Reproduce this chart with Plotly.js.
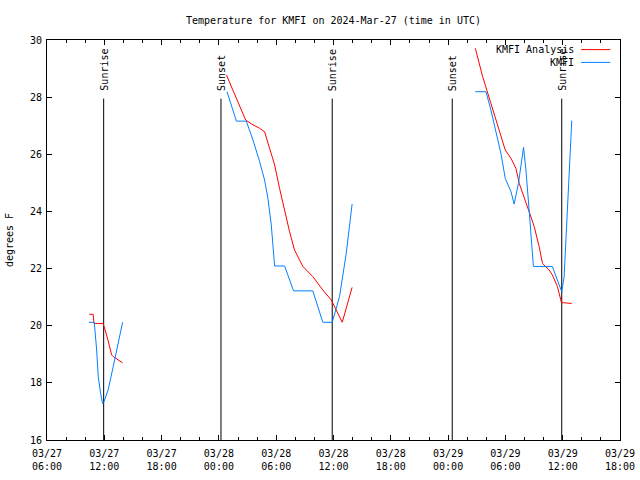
<!DOCTYPE html>
<html>
<head>
<meta charset="utf-8">
<script src="https://cdn.plot.ly/plotly-3.0.1.min.js"></script>
<style>html,body{margin:0;padding:0;background:#fff;}#chart{width:640px;height:480px;}</style>
</head>
<body>
<div id="chart"></div>
<script>
// ---- Data ----
const analysisTimes = [
  '2024-03-27 10:25','2024-03-27 10:50','2024-03-27 10:55','2024-03-27 11:53','2024-03-27 12:23','2024-03-27 12:46','2024-03-27 12:56','2024-03-27 13:21','2024-03-27 13:55',
  null,
  '2024-03-28 00:47','2024-03-28 02:48','2024-03-28 03:34','2024-03-28 04:16','2024-03-28 04:47','2024-03-28 05:19','2024-03-28 05:50','2024-03-28 06:21','2024-03-28 06:53','2024-03-28 07:24','2024-03-28 07:55','2024-03-28 08:48','2024-03-28 09:50','2024-03-28 10:53','2024-03-28 11:46','2024-03-28 12:17','2024-03-28 12:55','2024-03-28 13:57',
  null,
  '2024-03-29 02:51','2024-03-29 03:37','2024-03-29 04:29','2024-03-29 05:21','2024-03-29 05:59','2024-03-29 06:35','2024-03-29 07:06','2024-03-29 07:27','2024-03-29 07:58','2024-03-29 08:29','2024-03-29 09:01','2024-03-29 09:32','2024-03-29 09:53','2024-03-29 10:35','2024-03-29 10:55','2024-03-29 11:27','2024-03-29 11:52','2024-03-29 12:57'
];
const analysisTemps = [
  20.40,20.40,20.08,20.08,19.50,18.98,18.92,18.82,18.70,
  null,
  28.78,27.20,27.03,26.91,26.79,26.21,25.63,24.81,23.99,23.29,22.65,22.07,21.72,21.25,20.90,20.55,20.12,21.34,
  null,
  29.71,28.72,27.78,26.85,26.15,25.86,25.51,24.98,24.52,23.99,23.47,22.77,22.18,21.95,21.78,21.37,20.81,20.78
];
const obsTimes = [
  '2024-03-27 10:23','2024-03-27 10:57','2024-03-27 11:12','2024-03-27 11:22','2024-03-27 11:37','2024-03-27 11:49','2024-03-27 11:58','2024-03-27 12:24','2024-03-27 12:56','2024-03-27 13:27','2024-03-27 13:55',
  null,
  '2024-03-28 00:51','2024-03-28 01:50','2024-03-28 02:52','2024-03-28 03:34','2024-03-28 04:16','2024-03-28 04:47','2024-03-28 05:08','2024-03-28 05:29','2024-03-28 05:50','2024-03-28 06:53','2024-03-28 07:49','2024-03-28 09:50','2024-03-28 10:53','2024-03-28 11:52','2024-03-28 12:38','2024-03-28 13:20','2024-03-28 13:57',
  null,
  '2024-03-29 02:51','2024-03-29 03:58','2024-03-29 04:29','2024-03-29 05:00','2024-03-29 05:32','2024-03-29 05:59','2024-03-29 06:35','2024-03-29 06:55','2024-03-29 07:22','2024-03-29 07:54','2024-03-29 08:09','2024-03-29 08:29','2024-03-29 08:44','2024-03-29 08:56','2024-03-29 10:55','2024-03-29 11:17','2024-03-29 11:42','2024-03-29 11:54','2024-03-29 12:09','2024-03-29 12:30','2024-03-29 12:46','2024-03-29 12:57'
];
const obsTemps = [
  20.12,20.12,19.15,18.22,17.63,17.28,17.34,17.75,18.57,19.38,20.12,
  null,
  28.19,27.16,27.16,26.50,25.74,25.10,24.46,23.53,22.09,22.09,21.22,21.22,20.12,20.12,21.02,22.53,24.26,
  null,
  28.19,28.19,27.55,26.79,26.03,25.16,24.69,24.26,24.98,26.24,25.45,24.05,23.00,22.07,22.07,21.72,21.37,21.19,21.72,23.93,25.68,27.18
];
const eventTimes = ['2024-03-27 11:56','2024-03-28 00:13','2024-03-28 11:52','2024-03-29 00:26','2024-03-29 11:54'];
const eventLabels = ['Sunrise','Sunset','Sunrise','Sunset','Sunrise'];
const eventLineBottom = 16;
const eventLineTop = 27.95;
const eventLabelBase = 28.18;

const xTickVals = ['2024-03-27 06:00','2024-03-27 12:00','2024-03-27 18:00','2024-03-28 00:00','2024-03-28 06:00','2024-03-28 12:00','2024-03-28 18:00','2024-03-29 00:00','2024-03-29 06:00','2024-03-29 12:00','2024-03-29 18:00'];
const xTickText = ['03/27<br>06:00','03/27<br>12:00','03/27<br>18:00','03/28<br>00:00','03/28<br>06:00','03/28<br>12:00','03/28<br>18:00','03/29<br>00:00','03/29<br>06:00','03/29<br>12:00','03/29<br>18:00'];
const yTickVals = [16,18,20,22,24,26,28,30];
const seriesNames = ['KMFI Analysis','KMFI'];
const seriesColors = ['#ff0000','#0080ff'];

// ---- Build ----
const FONT = 'DejaVu Sans Mono, monospace';
const evX = [], evY = [];
eventTimes.forEach(t => { evX.push(t, t, null); evY.push(eventLineBottom, eventLineTop, null); });

const traces = [
  {x: evX, y: evY, mode: 'lines', line: {color: '#000', width: 1}, hoverinfo: 'skip', showlegend: false},
  {x: analysisTimes, y: analysisTemps, mode: 'lines', name: seriesNames[0], line: {color: seriesColors[0], width: 1}, connectgaps: false},
  {x: obsTimes, y: obsTemps, mode: 'lines', name: seriesNames[1], line: {color: seriesColors[1], width: 1}, connectgaps: false}
];

const annotations = eventTimes.map((t, i) => ({
  x: t, y: eventLabelBase, xref: 'x', yref: 'y', text: eventLabels[i], showarrow: false,
  textangle: -90, xanchor: 'center', yanchor: 'bottom', font: {family: FONT, size: 10, color: '#000'}, borderpad: 0
}));
// legend (gnuplot style: text then sample)
const legY = [0.976, 0.944];
seriesNames.forEach((n, i) => {
  annotations.push({x: 0.922, y: legY[i], xref: 'paper', yref: 'paper', text: n, showarrow: false,
    xanchor: 'right', yanchor: 'middle', font: {family: FONT, size: 10, color: '#000'}, borderpad: 0});
});
const shapes = seriesNames.map((n, i) => ({type: 'line', xref: 'paper', yref: 'paper', x0: 0.932, x1: 0.983, y0: legY[i], y1: legY[i], line: {color: seriesColors[i], width: 1}}));

const layout = {
  width: 640, height: 480,
  margin: {l: 47, r: 20, t: 40, b: 40},
  paper_bgcolor: '#fff', plot_bgcolor: '#fff',
  showlegend: false,
  font: {family: FONT, size: 10, color: '#000'},
  title: {text: 'Temperature for KMFI on 2024-Mar-27 (time in UTC)', x: 0.5, xref: 'paper', y: 19, yref: 'container', yanchor: 'middle', font: {family: FONT, size: 10, color: '#000'}},
  xaxis: {
    type: 'date', range: [xTickVals[0], xTickVals[xTickVals.length - 1]],
    tickmode: 'array', tickvals: xTickVals, ticktext: xTickText,
    ticks: 'inside', ticklen: 5, tickcolor: '#000', mirror: 'allticks',
    showline: true, linecolor: '#000', linewidth: 1, showgrid: false, zeroline: false,
    minor: {tickmode: 'linear', tick0: xTickVals[0], dtick: 7200000, ticks: 'inside', ticklen: 3, tickcolor: '#000', showgrid: false},
    tickfont: {family: FONT, size: 10, color: '#000'}, ticklabelstandoff: 4, fixedrange: true
  },
  yaxis: {
    range: [16, 30], tickmode: 'array', tickvals: yTickVals,
    ticks: 'inside', ticklen: 5, tickcolor: '#000', mirror: 'allticks',
    showline: true, linecolor: '#000', linewidth: 1, showgrid: false, zeroline: false,
    tickfont: {family: FONT, size: 10, color: '#000'}, ticklabelstandoff: 2,
    title: {text: 'degrees F', font: {family: FONT, size: 10, color: '#000'}, standoff: 14},
    automargin: false
  },
  annotations: annotations,
  shapes: shapes
};
Plotly.newPlot('chart', traces, layout, {staticPlot: true, displayModeBar: false});
</script>
</body>
</html>
